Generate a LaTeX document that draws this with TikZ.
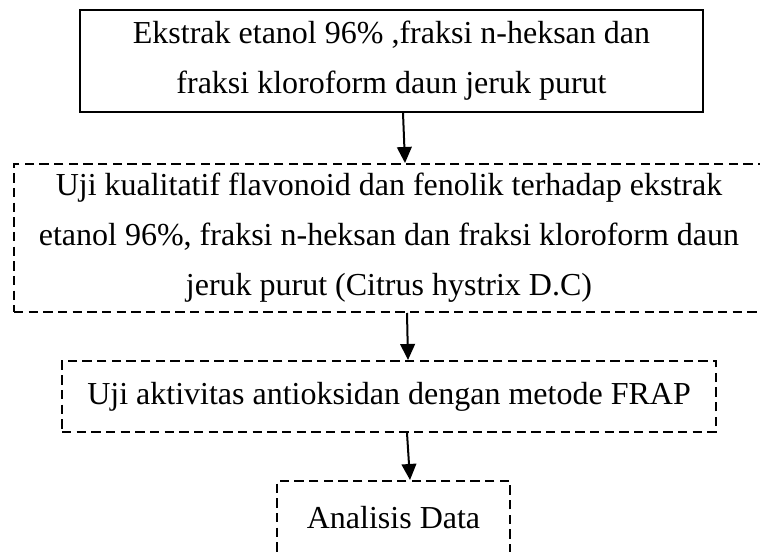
\documentclass[tikz,border=0pt]{standalone}
\usepackage{fontspec}
\setmainfont{Liberation Serif}
\usetikzlibrary{arrows.meta}

\begin{document}
\begin{tikzpicture}[x=0.75pt,y=-0.75pt,
    solidbox/.style={draw, line width=1.5pt, align=center, inner sep=0pt},
    dashbox/.style={draw, line width=1.5pt, dash pattern=on 7pt off 4pt, align=center, inner sep=0pt},
    flow/.style={-{Triangle[width=11pt,length=12pt]}, line width=1.5pt}]
  \useasboundingbox (0,0) rectangle (760,552);
  \clip (0,0) rectangle (760,552);
  \tikzset{every node/.style={font=\fontsize{24}{37.5}\selectfont}}

  \node[solidbox, minimum width=467pt, minimum height=76.5pt] (ekstrak) at (391.5,61)
    {Ekstrak etanol 96\% ,fraksi n-heksan dan\\fraksi kloroform daun jeruk purut};
  \node[dashbox, minimum width=562.5pt, minimum height=111pt] (kualitatif) at (389,238)
    {Uji kualitatif flavonoid dan fenolik terhadap ekstrak\\etanol 96\%, fraksi n-heksan dan fraksi kloroform daun\\jeruk purut (Citrus hystrix D.C)};
  \node[dashbox, minimum width=490.5pt, minimum height=53.25pt] (aktivitas) at (389,396.5)
    {Uji aktivitas antioksidan dengan metode FRAP};
  \node[dashbox, minimum width=174.75pt, minimum height=55.5pt] (analisis) at (393.5,518)
    {Analisis Data};

  \draw[flow] ([shift={(11.5,0)}]ekstrak.south) -- ([shift={(16,0)}]kualitatif.north);
  \draw[flow] ([shift={(18,0)}]kualitatif.south) -- ([shift={(19,0)}]aktivitas.north);
  \draw[flow] ([shift={(18,0)}]aktivitas.south) -- ([shift={(16.5,0)}]analisis.north);

\end{tikzpicture}
\end{document}
